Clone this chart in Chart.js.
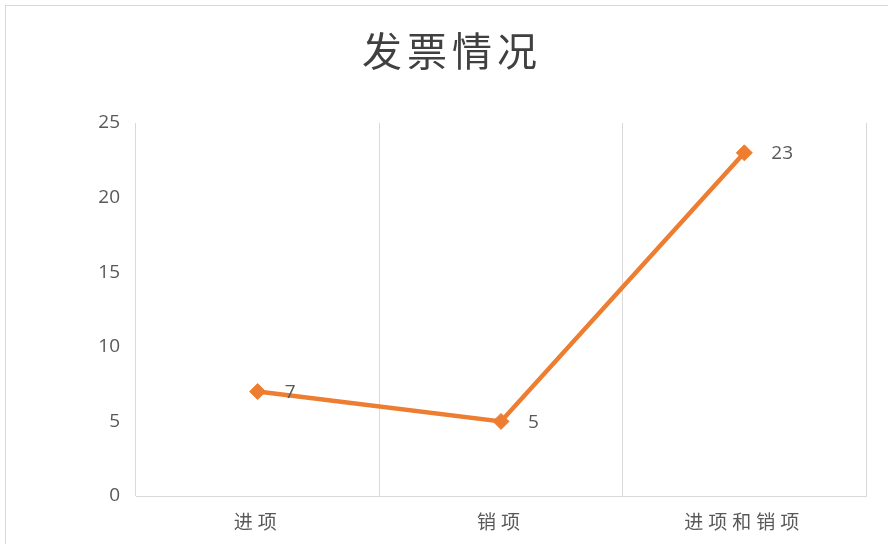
<!DOCTYPE html>
<html>
<head>
<meta charset="utf-8">
<script src="https://cdn.jsdelivr.net/npm/chart.js@4/dist/chart.umd.min.js"></script>
<style>
  html, body { margin: 0; padding: 0; background: #fff; overflow: hidden; }
  #wrap { position: relative; width: 888px; height: 544px; overflow: hidden; }
  #frame { position: absolute; left: 5px; top: 5px; width: 900px; height: 560px; border: 1px solid #d9d9d9; box-sizing: border-box; }
  canvas { position: absolute; left: 0; top: 0; }
</style>
</head>
<body>
<div id="wrap">
  <div id="frame"></div>
  <canvas id="c" width="888" height="544"></canvas>
</div>
<script>
const chartTitle = '发票情况';
const categories = ['进项', '销项', '进项和销项'];
const values = [7, 5, 23];
const yTicks = [0, 5, 10, 15, 20, 25];

const labelFont = '"Open Sans", "Liberation Sans", sans-serif';
const cjkFont = '"Noto Sans CJK SC", "Noto Sans", sans-serif';

const dataLabels = {
  id: 'dataLabels',
  afterDatasetsDraw(chart) {
    const ctx = chart.ctx;
    const meta = chart.getDatasetMeta(0);
    ctx.save();
    ctx.font = '19px ' + labelFont;
    ctx.fillStyle = '#595959';
    ctx.textAlign = 'left';
    ctx.textBaseline = 'middle';
    meta.data.forEach((pt, i) => {
      ctx.fillText(String(values[i]), pt.x + 27, pt.y + 1);
    });
    ctx.restore();
  }
};

const chart = new Chart(document.getElementById('c'), {
  type: 'line',
  data: {
    labels: categories,
    datasets: [{
      data: values,
      borderColor: '#ED7D31',
      backgroundColor: '#ED7D31',
      borderWidth: 4.5,
      pointStyle: 'rectRot',
      pointRadius: 8,
      pointBorderWidth: 1,
      pointBackgroundColor: '#ED7D31',
      pointBorderColor: '#ED7D31',
      tension: 0,
      fill: false
    }]
  },
  options: {
    responsive: false,
    animation: false,
    devicePixelRatio: 1,
    layout: { padding: { left: 38, right: 22, top: 0, bottom: 0 } },
    plugins: {
      legend: { display: false },
      tooltip: { enabled: false },
      title: {
        display: true,
        text: chartTitle,
        color: '#404040',
        font: { family: cjkFont, size: 40, weight: 'normal', lineHeight: 1.2 },
        padding: { top: 27, bottom: 48 }
      }
    },
    scales: {
      x: {
        type: 'category',
        offset: true,
        grid: { display: true, offset: true, color: '#d9d9d9', lineWidth: 1, drawTicks: false },
        border: { display: true, color: '#d9d9d9', width: 1 },
        ticks: { color: '#595959', font: { family: cjkFont, size: 19 }, padding: 14, maxRotation: 0 },
        afterFit(s) { s.height = 48; }
      },
      y: {
        min: 0,
        max: 25,
        grid: { display: false, drawTicks: false },
        border: { display: false },
        afterBuildTicks(s) { s.ticks = yTicks.map(v => ({ value: v })); },
        ticks: { color: '#595959', font: { family: labelFont, size: 19 }, padding: 16 },
        afterFit(s) { s.width = 98; }
      }
    }
  },
  plugins: [dataLabels]
});

// letter spacing for title and category labels (Office-style spaced CJK text)
const ctx = chart.ctx;
const tb = chart.titleBlock;
const origTitleDraw = tb.draw.bind(tb);
tb.draw = function () { ctx.save(); ctx.letterSpacing = '5px'; origTitleDraw(); ctx.restore(); };
const xs = chart.scales.x;
const origDrawLabels = xs.drawLabels.bind(xs);
xs.drawLabels = function (area) { ctx.save(); ctx.letterSpacing = '5px'; origDrawLabels(area); ctx.restore(); };
chart.draw();
</script>
</body>
</html>
